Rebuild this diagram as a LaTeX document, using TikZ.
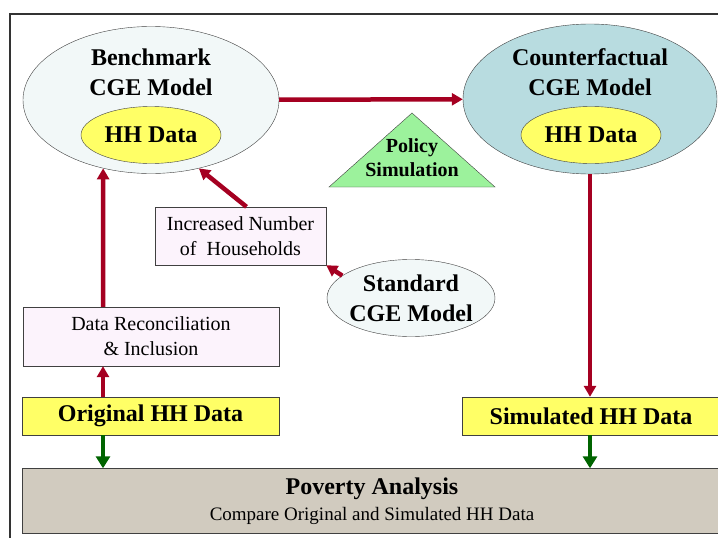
\documentclass[tikz,border=0pt]{standalone}
\usepackage{fontspec}
\setmainfont{Liberation Serif}
\usetikzlibrary{
  positioning,
  shapes.geometric,
  arrows.meta,
  calc
}

\definecolor{flowred}{HTML}{A50021}
\definecolor{flowgreen}{HTML}{006400}
\definecolor{modelpale}{HTML}{F2F8F8}
\definecolor{modelblue}{HTML}{B8DCE0}
\definecolor{hhyellow}{HTML}{FFFF66}
\definecolor{steppink}{HTML}{FCF3FC}
\definecolor{policygreen}{HTML}{9CF29C}
\definecolor{povertytan}{HTML}{D1CBBF}

\begin{document}
\begin{tikzpicture}[
  x=1pt, y=-1pt,
  big/.style={font=\bfseries\fontsize{24}{30}\selectfont},
  small/.style={font=\fontsize{20}{25}\selectfont},
  model/.style={ellipse, draw=black!75, fill=modelpale, inner sep=0pt, align=center, big},
  hhdata/.style={ellipse, draw=black!75, fill=hhyellow, inner sep=0pt, minimum width=140pt, minimum height=57pt, big},
  stepbox/.style={rectangle, draw=black!75, fill=steppink, inner sep=0pt, align=center, small},
  databox/.style={rectangle, draw=black!75, fill=hhyellow, inner sep=0pt, minimum height=38pt, big},
  arrow/.style={line width=4.5pt, -{Triangle[length=11pt, width=12pt]}, flowred},
  garrow/.style={line width=4.5pt, -{Triangle[length=12pt, width=14pt]}, flowgreen}
]
\useasboundingbox (0,0) rectangle (718,538);
\draw[black!80, line width=1.2pt] (10,540) -- (10,14) -- (722,14);

% Models
\node[model, minimum width=256pt, minimum height=147pt] (bench) at (151,100) {};
\node[align=center, big] (benchtxt) at (151,72) {Benchmark\\CGE Model};
\node[hhdata] (benchhh) at (151,135) {HH Data};

\node[model, fill=modelblue, minimum width=254pt, minimum height=150pt] (cf) at (590,99) {};
\node[align=center, big] (cftxt) at (590,72) {Counterfactual\\CGE Model};
\node[hhdata] (cfhh) at (591,135) {HH Data};

\node[model, minimum width=168pt, minimum height=77pt] (std) at (411,298) {};
\node[align=center, big] (stdtxt) at (std) {Standard\\CGE Model};

% Policy simulation
\filldraw[draw=black!75, fill=policygreen] (329,187) -- (412,113) -- (495,187) -- cycle;
\node[align=center, font=\bfseries\fontsize{20}{24}\selectfont] (policy) at (412,158) {Policy\\Simulation};

% Boxes
\node[stepbox, minimum width=171pt, minimum height=58pt] (incr) at (240.5,236) {Increased Number\\of \ Households};
\node[stepbox, minimum width=256pt, minimum height=59pt] (datarec) at (151,336.5) {Data Reconciliation\\\& Inclusion};
\node[databox, minimum width=257pt] (orig) at (150.5,416) {Original HH Data};
\node[databox, minimum width=258pt] (sim) at (591,416) {Simulated HH Data};
\node[rectangle, draw=black!75, fill=povertytan, minimum width=700pt, minimum height=65pt, inner sep=0pt, align=center,
  font=\fontsize{19}{26}\selectfont] (poverty) at (372,501)
  {{\bfseries\fontsize{24}{26}\selectfont Poverty Analysis}\\Compare Original and Simulated HH Data};

\coordinate (leftcol) at (103,0);

% Arrows
\draw[arrow] (bench) -- (cf);
\draw[arrow] (leftcol |- datarec.north) -- (bench.235);
\draw[arrow] (leftcol |- orig.north) -- (leftcol |- datarec.south);
\draw[arrow] ($(incr.north)+(6,0)$) -- (bench.305);
\draw[arrow] (std.162) -- (incr.south east);
\draw[arrow] (cf.south) -- (cf.south |- sim.north);
\draw[garrow] (leftcol |- orig.south) -- (leftcol |- poverty.north);
\draw[garrow] (cf.south |- sim.south) -- (cf.south |- poverty.north);

\end{tikzpicture}
\end{document}
